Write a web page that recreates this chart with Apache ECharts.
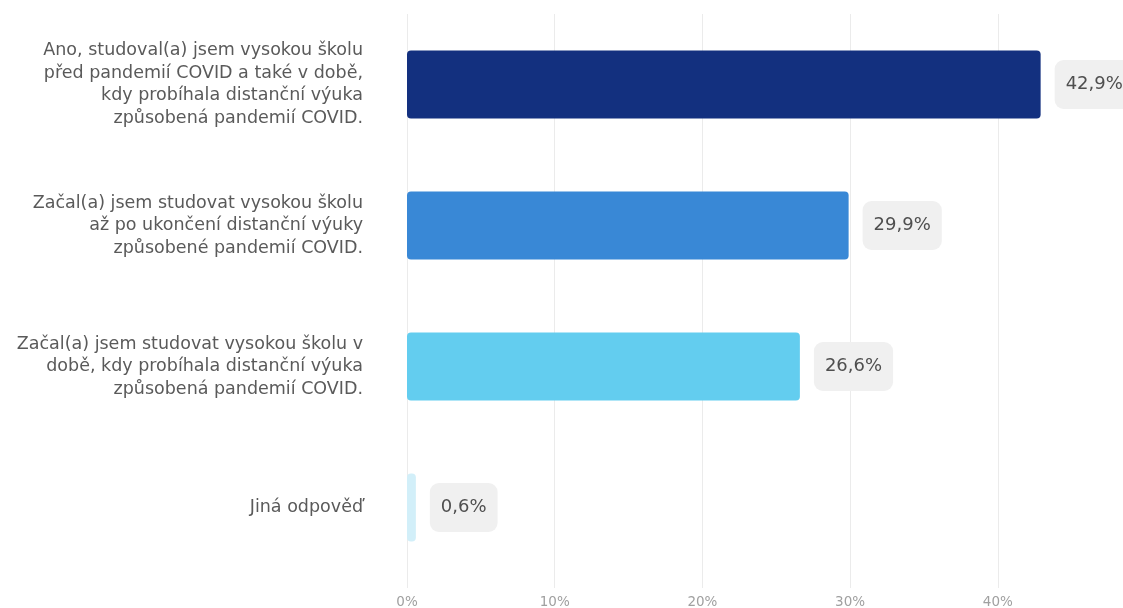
<!DOCTYPE html>
<html>
<head>
<meta charset="utf-8">
<script src="https://cdn.jsdelivr.net/npm/echarts@6/dist/echarts.min.js"></script>
<style>
  html, body { margin: 0; padding: 0; background: #ffffff; }
  #chart { width: 1123px; height: 608px; }
</style>
</head>
<body>
<div id="chart"></div>
<script>
// Survey answers (Czech), top to bottom
const categories = [
  'Ano, studoval(a) jsem vysokou školu\npřed pandemií COVID a také v době,\nkdy probíhala distanční výuka\nzpůsobená pandemií COVID.',
  'Začal(a) jsem studovat vysokou školu\naž po ukončení distanční výuky\nzpůsobené pandemií COVID.',
  'Začal(a) jsem studovat vysokou školu v\ndobě, kdy probíhala distanční výuka\nzpůsobená pandemií COVID.',
  'Jiná odpověď'
];
// Share of respondents, percent
const values = [42.9, 29.9, 26.6, 0.6];
// Percent tick values along the value axis
const tickValues = [0, 10, 20, 30, 40];

const barColors = ['#13307f', '#3988d6', '#63cdef', '#d2eff9'];
const fmtPct = v => String(v).replace('.', ',') + '%';
const FONT = '"DejaVu Sans", Verdana, sans-serif';

const chart = echarts.init(document.getElementById('chart'), null, { renderer: 'canvas' });

chart.setOption({
  backgroundColor: '#ffffff',
  animation: false,
  // the value axis runs on past the right edge so that 50% sits just off-canvas
  grid: { left: 407, top: 14, right: -22.5, height: 564, outerBoundsMode: 'none' },
  xAxis: {
    type: 'value',
    min: tickValues[0],
    max: 50,
    interval: tickValues[1] - tickValues[0],
    axisLine: { show: false },
    axisTick: { show: true, length: 10, lineStyle: { color: '#ebebeb', width: 1 } },
    splitLine: { show: true, lineStyle: { color: '#ebebeb', width: 1 } },
    axisLabel: {
      margin: 17,
      color: '#a0a0a0',
      fontFamily: FONT,
      fontSize: 13.5,
      formatter: v => tickValues.includes(v) ? v + '%' : ''
    }
  },
  yAxis: {
    type: 'category',
    inverse: true,
    data: categories,
    axisLine: { show: false },
    axisTick: { show: false },
    splitLine: { show: false },
    axisLabel: {
      margin: 44,
      color: '#5a5a5a',
      fontFamily: FONT,
      fontSize: 17.5,
      lineHeight: 22.5,
      align: 'right'
    }
  },
  series: [{
    type: 'bar',
    barWidth: 68,
    data: values.map((v, i) => ({ value: v, itemStyle: { color: barColors[i] } })),
    itemStyle: { borderRadius: 4 },
    label: {
      show: true,
      position: 'right',
      distance: 14,
      formatter: p => fmtPct(p.value),
      color: '#4f4f4f',
      fontFamily: FONT,
      fontSize: 18,
      lineHeight: 20,
      backgroundColor: '#f0f0f0',
      borderRadius: 9,
      padding: [15, 11, 14, 11]
    }
  }]
});
</script>
</body>
</html>
